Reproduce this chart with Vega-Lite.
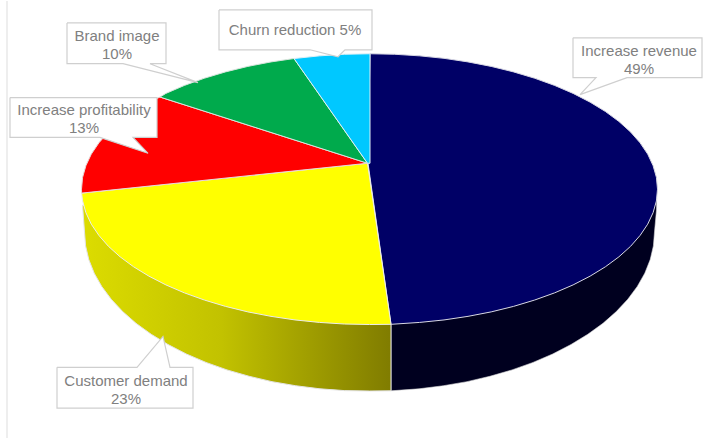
{
  "$schema": "https://vega.github.io/schema/vega-lite/v6.json",
  "width": 723,
  "height": 439,
  "padding": 0,
  "autosize": {"type": "fit", "contains": "padding"},
  "background": "white",
  "view": {"stroke": null},
  "config": {"axis": {"grid": false}},
  "datasets": {
    "outlines": [
      {"part":"Increase revenue","i":0,"x":368,"y":163},{"part":"Increase revenue","i":1,"x":370,"y":53},{"part":"Increase revenue","i":2,"x":394.6,"y":53.5},{"part":"Increase revenue","i":3,"x":419.5,"y":55.1},{"part":"Increase revenue","i":4,"x":444,"y":57.6},{"part":"Increase revenue","i":5,"x":468,"y":61.2},{"part":"Increase revenue","i":6,"x":491.2,"y":65.7},{"part":"Increase revenue","i":7,"x":513.5,"y":71.2},{"part":"Increase revenue","i":8,"x":534.7,"y":77.6},{"part":"Increase revenue","i":9,"x":554.6,"y":84.8},{"part":"Increase revenue","i":10,"x":573.1,"y":92.8},{"part":"Increase revenue","i":11,"x":590.1,"y":101.6},{"part":"Increase revenue","i":12,"x":605.4,"y":111},{"part":"Increase revenue","i":13,"x":618.9,"y":121},{"part":"Increase revenue","i":14,"x":630.5,"y":131.5},{"part":"Increase revenue","i":15,"x":640.1,"y":142.5},{"part":"Increase revenue","i":16,"x":647.7,"y":153.8},{"part":"Increase revenue","i":17,"x":653.1,"y":165.4},{"part":"Increase revenue","i":18,"x":656.4,"y":177.1},{"part":"Increase revenue","i":19,"x":657.5,"y":189},{"part":"Increase revenue","i":20,"x":656.4,"y":200.9},{"part":"Increase revenue","i":21,"x":653.1,"y":212.6},{"part":"Increase revenue","i":22,"x":647.7,"y":224.2},{"part":"Increase revenue","i":23,"x":640.1,"y":235.5},{"part":"Increase revenue","i":24,"x":630.5,"y":246.5},{"part":"Increase revenue","i":25,"x":618.9,"y":257},{"part":"Increase revenue","i":26,"x":605.4,"y":267},{"part":"Increase revenue","i":27,"x":590.1,"y":276.4},{"part":"Increase revenue","i":28,"x":573.1,"y":285.2},{"part":"Increase revenue","i":29,"x":554.6,"y":293.2},{"part":"Increase revenue","i":30,"x":534.7,"y":300.4},{"part":"Increase revenue","i":31,"x":513.5,"y":306.8},{"part":"Increase revenue","i":32,"x":491.2,"y":312.3},{"part":"Increase revenue","i":33,"x":468,"y":316.8},{"part":"Increase revenue","i":34,"x":444,"y":320.4},{"part":"Increase revenue","i":35,"x":419.5,"y":322.9},{"part":"Increase revenue","i":36,"x":391,"y":324.8},{"part":"Increase revenue","i":37,"x":368,"y":163},

      {"part":"Customer demand","i":0,"x":367.5,"y":163},{"part":"Customer demand","i":1,"x":391,"y":324.8},{"part":"Customer demand","i":2,"x":369.5,"y":325},{"part":"Customer demand","i":3,"x":344.4,"y":324.5},{"part":"Customer demand","i":4,"x":319.5,"y":322.9},{"part":"Customer demand","i":5,"x":295,"y":320.4},{"part":"Customer demand","i":6,"x":271,"y":316.8},{"part":"Customer demand","i":7,"x":247.8,"y":312.3},{"part":"Customer demand","i":8,"x":225.5,"y":306.8},{"part":"Customer demand","i":9,"x":204.3,"y":300.4},{"part":"Customer demand","i":10,"x":184.4,"y":293.2},{"part":"Customer demand","i":11,"x":165.9,"y":285.2},{"part":"Customer demand","i":12,"x":148.9,"y":276.4},{"part":"Customer demand","i":13,"x":133.6,"y":267},{"part":"Customer demand","i":14,"x":120.1,"y":257},{"part":"Customer demand","i":15,"x":108.5,"y":246.5},{"part":"Customer demand","i":16,"x":98.9,"y":235.5},{"part":"Customer demand","i":17,"x":91.3,"y":224.2},{"part":"Customer demand","i":18,"x":85.9,"y":212.6},{"part":"Customer demand","i":19,"x":82.6,"y":200.9},{"part":"Customer demand","i":20,"x":81.6,"y":193},{"part":"Customer demand","i":21,"x":367.5,"y":163},

      {"part":"Increase profitability","i":0,"x":367.5,"y":163},{"part":"Increase profitability","i":1,"x":81.6,"y":193},{"part":"Increase profitability","i":2,"x":81.5,"y":189},{"part":"Increase profitability","i":3,"x":82.6,"y":177.1},{"part":"Increase profitability","i":4,"x":85.9,"y":165.4},{"part":"Increase profitability","i":5,"x":91.3,"y":153.8},{"part":"Increase profitability","i":6,"x":98.9,"y":142.5},{"part":"Increase profitability","i":7,"x":108.5,"y":131.5},{"part":"Increase profitability","i":8,"x":120.1,"y":121},{"part":"Increase profitability","i":9,"x":133.6,"y":111},{"part":"Increase profitability","i":10,"x":148.9,"y":101.6},{"part":"Increase profitability","i":11,"x":160,"y":96.5},{"part":"Increase profitability","i":12,"x":367.5,"y":163},

      {"part":"Brand image","i":0,"x":367.5,"y":163},{"part":"Brand image","i":1,"x":160,"y":96.5},{"part":"Brand image","i":2,"x":165.9,"y":92.8},{"part":"Brand image","i":3,"x":184.4,"y":84.8},{"part":"Brand image","i":4,"x":204.3,"y":77.6},{"part":"Brand image","i":5,"x":225.5,"y":71.2},{"part":"Brand image","i":6,"x":247.8,"y":65.7},{"part":"Brand image","i":7,"x":271,"y":61.2},{"part":"Brand image","i":8,"x":294,"y":57.8},{"part":"Brand image","i":9,"x":367.5,"y":163},

      {"part":"Churn reduction","i":0,"x":367.5,"y":163},{"part":"Churn reduction","i":1,"x":294,"y":57.8},{"part":"Churn reduction","i":2,"x":319.5,"y":55.1},{"part":"Churn reduction","i":3,"x":344.4,"y":53.5},{"part":"Churn reduction","i":4,"x":370,"y":53},{"part":"Churn reduction","i":5,"x":370,"y":163},{"part":"Churn reduction","i":6,"x":367.5,"y":163},

      {"part":"Revenue wall","i":0,"x":656.8,"y":198},{"part":"Revenue wall","i":1,"x":656.5,"y":210},{"part":"Revenue wall","i":2,"x":654.5,"y":232},{"part":"Revenue wall","i":3,"x":653.4,"y":246},{"part":"Revenue wall","i":4,"x":650.2,"y":259.8},{"part":"Revenue wall","i":5,"x":644.8,"y":273.4},{"part":"Revenue wall","i":6,"x":637.3,"y":286.7},{"part":"Revenue wall","i":7,"x":627.8,"y":299.6},{"part":"Revenue wall","i":8,"x":616.3,"y":312},{"part":"Revenue wall","i":9,"x":603,"y":323.8},{"part":"Revenue wall","i":10,"x":587.8,"y":334.8},{"part":"Revenue wall","i":11,"x":571,"y":345.1},{"part":"Revenue wall","i":12,"x":552.7,"y":354.6},{"part":"Revenue wall","i":13,"x":533,"y":363.1},{"part":"Revenue wall","i":14,"x":512,"y":370.6},{"part":"Revenue wall","i":15,"x":489.9,"y":377},{"part":"Revenue wall","i":16,"x":467,"y":382.4},{"part":"Revenue wall","i":17,"x":443.3,"y":386.5},{"part":"Revenue wall","i":18,"x":419,"y":389.6},{"part":"Revenue wall","i":19,"x":391,"y":391.6},{"part":"Revenue wall","i":20,"x":391,"y":320},{"part":"Revenue wall","i":21,"x":600,"y":250},

      {"part":"Demand wall","i":0,"x":391,"y":320},{"part":"Demand wall","i":1,"x":391,"y":391.6},{"part":"Demand wall","i":2,"x":369.5,"y":391.8},{"part":"Demand wall","i":3,"x":344.7,"y":391.4},{"part":"Demand wall","i":4,"x":320,"y":389.6},{"part":"Demand wall","i":5,"x":295.7,"y":386.5},{"part":"Demand wall","i":6,"x":272,"y":382.4},{"part":"Demand wall","i":7,"x":249.1,"y":377},{"part":"Demand wall","i":8,"x":227,"y":370.6},{"part":"Demand wall","i":9,"x":206,"y":363.1},{"part":"Demand wall","i":10,"x":186.3,"y":354.6},{"part":"Demand wall","i":11,"x":168,"y":345.1},{"part":"Demand wall","i":12,"x":151.2,"y":334.8},{"part":"Demand wall","i":13,"x":136,"y":323.8},{"part":"Demand wall","i":14,"x":122.7,"y":312},{"part":"Demand wall","i":15,"x":111.2,"y":299.6},{"part":"Demand wall","i":16,"x":101.7,"y":286.7},{"part":"Demand wall","i":17,"x":94.2,"y":273.4},{"part":"Demand wall","i":18,"x":88.8,"y":259.8},{"part":"Demand wall","i":19,"x":85.6,"y":246},{"part":"Demand wall","i":20,"x":84.5,"y":232},{"part":"Demand wall","i":21,"x":82.5,"y":205},{"part":"Demand wall","i":22,"x":200,"y":250},

      {"part":"Box revenue","i":0,"x":573,"y":37},{"part":"Box revenue","i":1,"x":702,"y":37},{"part":"Box revenue","i":2,"x":702,"y":77},{"part":"Box revenue","i":3,"x":627,"y":77},{"part":"Box revenue","i":4,"x":580,"y":94},{"part":"Box revenue","i":5,"x":596,"y":77},{"part":"Box revenue","i":6,"x":573,"y":77},{"part":"Box revenue","i":7,"x":573,"y":37},

      {"part":"Box churn","i":0,"x":219,"y":9},{"part":"Box churn","i":1,"x":372,"y":9},{"part":"Box churn","i":2,"x":372,"y":49},{"part":"Box churn","i":3,"x":345,"y":49},{"part":"Box churn","i":4,"x":338,"y":56},{"part":"Box churn","i":5,"x":310,"y":49},{"part":"Box churn","i":6,"x":219,"y":49},{"part":"Box churn","i":7,"x":219,"y":9},

      {"part":"Box brand","i":0,"x":67,"y":22},{"part":"Box brand","i":1,"x":166,"y":22},{"part":"Box brand","i":2,"x":166,"y":63},{"part":"Box brand","i":3,"x":150,"y":63},{"part":"Box brand","i":4,"x":198,"y":82},{"part":"Box brand","i":5,"x":123,"y":63},{"part":"Box brand","i":6,"x":67,"y":63},{"part":"Box brand","i":7,"x":67,"y":22},

      {"part":"Box profitability","i":0,"x":10,"y":97},{"part":"Box profitability","i":1,"x":157,"y":97},{"part":"Box profitability","i":2,"x":157,"y":137},{"part":"Box profitability","i":3,"x":133,"y":137},{"part":"Box profitability","i":4,"x":148,"y":153},{"part":"Box profitability","i":5,"x":100,"y":137},{"part":"Box profitability","i":6,"x":10,"y":137},{"part":"Box profitability","i":7,"x":10,"y":97},

      {"part":"Box demand","i":0,"x":57,"y":368},{"part":"Box demand","i":1,"x":137,"y":368},{"part":"Box demand","i":2,"x":163,"y":337},{"part":"Box demand","i":3,"x":170,"y":368},{"part":"Box demand","i":4,"x":193,"y":368},{"part":"Box demand","i":5,"x":193,"y":409},{"part":"Box demand","i":6,"x":57,"y":409},{"part":"Box demand","i":7,"x":57,"y":368}
    ],
    "labels": [
      {"label":"Increase revenue\n49%","x":639,"y":50},
      {"label":"Churn reduction 5%","x":295,"y":29},
      {"label":"Brand image\n10%","x":117,"y":35},
      {"label":"Increase profitability\n13%","x":84,"y":109},
      {"label":"Customer demand\n23%","x":126,"y":382}
    ],
    "frame": [{"x":7,"y":0,"y_end":439}]
  },
  "data": {"name": "outlines"},
  "encoding": {
    "x": {"field": "x", "type": "quantitative", "scale": {"domain": [0, 723], "nice": false, "zero": false}, "axis": null},
    "y": {"field": "y", "type": "quantitative", "scale": {"domain": [439, 0], "nice": false, "zero": false}, "axis": null},
    "order": {"field": "i", "type": "quantitative"}
  },
  "layer": [
    {
      "data": {"name": "frame"},
      "mark": {"type": "rule", "color": "#eeeeee", "strokeWidth": 2},
      "encoding": {"y2": {"field": "y_end"}, "order": null}
    },
    {
      "transform": [{"filter": "datum.part === 'Revenue wall'"}],
      "mark": {"type": "line", "fill": "#00001f", "stroke": "#dcdcdc", "strokeWidth": 0.6}
    },
    {
      "transform": [{"filter": "datum.part === 'Demand wall'"}],
      "mark": {
        "type": "line",
        "stroke": "#e4e4e4",
        "strokeWidth": 1,
        "fill": {
          "gradient": "linear", "x1": 0, "y1": 0, "x2": 1, "y2": 0,
          "stops": [
            {"offset": 0, "color": "#dcdc00"},
            {"offset": 0.45, "color": "#c2c200"},
            {"offset": 1, "color": "#807c00"}
          ]
        }
      }
    },
    {
      "transform": [{"filter": "datum.part === 'Increase revenue'"}],
      "mark": {"type": "line", "fill": "#000066", "stroke": "#d8d8e4", "strokeWidth": 1}
    },
    {
      "transform": [{"filter": "datum.part === 'Customer demand'"}],
      "mark": {"type": "line", "fill": "#ffff00", "stroke": "#ececec", "strokeWidth": 1}
    },
    {
      "transform": [{"filter": "datum.part === 'Increase profitability'"}],
      "mark": {"type": "line", "fill": "#ff0000", "stroke": "#e8d8d8", "strokeWidth": 1}
    },
    {
      "transform": [{"filter": "datum.part === 'Brand image'"}],
      "mark": {"type": "line", "fill": "#00aa4c", "stroke": "#d8e4dc", "strokeWidth": 1}
    },
    {
      "transform": [{"filter": "datum.part === 'Churn reduction'"}],
      "mark": {"type": "line", "fill": "#00c8ff", "stroke": "#e0f0f6", "strokeWidth": 1}
    },
    {
      "transform": [{"filter": "indexof(datum.part, 'Box') === 0"}],
      "mark": {"type": "line", "fill": "#ffffff", "stroke": "#cfcfcf", "strokeWidth": 1.2},
      "encoding": {"detail": {"field": "part"}}
    },
    {
      "data": {"name": "labels"},
      "mark": {
        "type": "text",
        "font": "Liberation Sans",
        "fontSize": 15,
        "color": "#808080",
        "align": "center",
        "baseline": "middle",
        "lineBreak": "\n",
        "lineHeight": 18
      },
      "encoding": {
        "text": {"field": "label"},
        "order": null
      }
    }
  ]
}
